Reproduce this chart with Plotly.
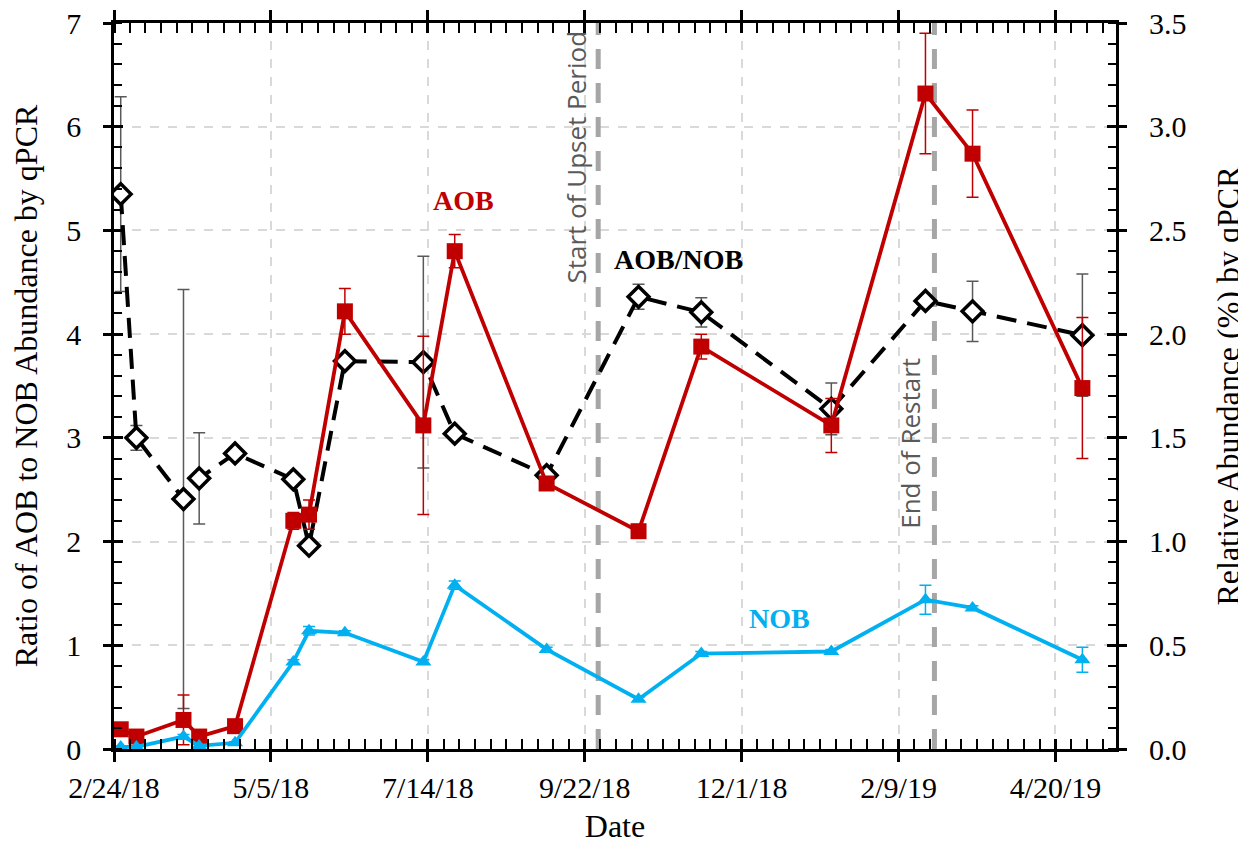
import plotly.graph_objects as go

# sampling dates
dates = ['2018-02-27', '2018-03-06', '2018-03-27', '2018-04-03', '2018-04-19',
         '2018-05-15', '2018-05-22', '2018-06-07', '2018-07-12', '2018-07-26',
         '2018-09-05', '2018-10-16', '2018-11-13', '2019-01-10', '2019-02-21',
         '2019-03-14', '2019-05-02']

# relative abundance (%) by qPCR - right axis
aob = [0.095, 0.06, 0.14, 0.06, 0.11, 1.10, 1.13, 2.11, 1.56, 2.40,
       1.28, 1.05, 1.94, 1.56, 3.16, 2.87, 1.74]
aob_err = [0.01, 0.005, 0.12, 0.01, 0.01, 0.04, 0.07, 0.11, 0.43, 0.08,
           0.01, 0.01, 0.06, 0.13, 0.29, 0.21, 0.34]
nob = [0.01, 0.01, 0.06, 0.015, 0.03, 0.42, 0.57, 0.56, 0.42, 0.79,
       0.48, 0.24, 0.46, 0.47, 0.72, 0.68, 0.43]
nob_err = [0.005, 0.005, 0.01, 0.005, 0.005, 0.01, 0.02, 0.01, 0.01, 0.02,
           0.01, 0.01, 0.01, 0.01, 0.07, 0.01, 0.06]

# AOB/NOB ratio - left axis
ratio = [5.35, 3.00, 2.41, 2.61, 2.85, 2.60, 1.96, 3.74, 3.73, 3.04,
         2.64, 4.36, 4.21, 3.28, 4.32, 4.22, 3.99]
ratio_err = [0.94, 0.12, 2.02, 0.44, 0.02, 0.02, 0.05, 0.02, 1.02, 0.02,
             0.05, 0.12, 0.14, 0.25, 0.03, 0.29, 0.59]

# process events
event_dates = ['2018-09-28', '2019-02-25']
event_labels = ['Start of Upset Period', 'End of Restart']

RED = '#C00000'
BLUE = '#00B0F0'
SERIF = 'Liberation Serif'
DAY = 86400000
CLEAR = 'rgba(0,0,0,0)'
TICKFONT = dict(family=SERIF, size=30, color='black')

fig = go.Figure()

fig.add_trace(go.Scatter(
    x=dates, y=ratio, name='AOB/NOB', mode='lines+markers',
    line=dict(color='black', width=4, dash='20px,11px'),
    marker=dict(symbol='diamond', size=16, color='white', line=dict(width=3.5, color='black')),
    error_y=dict(type='data', array=ratio_err, color='#595959', thickness=1.5, width=6),
))
fig.add_trace(go.Scatter(
    x=dates, y=aob, name='AOB', mode='lines+markers', yaxis='y2',
    line=dict(color=RED, width=3.8),
    marker=dict(symbol='square', size=16, color=RED),
    error_y=dict(type='data', array=aob_err, color=RED, thickness=1.5, width=6),
))
fig.add_trace(go.Scatter(
    x=dates, y=nob, name='NOB', mode='lines+markers', yaxis='y2',
    line=dict(color=BLUE, width=3.8),
    marker=dict(symbol='triangle-up', size=14, color=BLUE),
    error_y=dict(type='data', array=nob_err, color=BLUE, thickness=1.5, width=6),
))
# invisible traces carrying the extra tick-only axes (crossing major ticks)
fig.add_trace(go.Scatter(x=dates, y=ratio, xaxis='x3', yaxis='y3', mode='lines',
                         opacity=0, hoverinfo='skip', showlegend=False))
fig.add_trace(go.Scatter(x=dates, y=ratio, xaxis='x', yaxis='y4', mode='lines',
                         opacity=0, hoverinfo='skip', showlegend=False))

for d in event_dates:
    fig.add_shape(type='line', x0=d, x1=d, y0=0, y1=7, xref='x', yref='y',
                  line=dict(color='#A6A6A6', width=5, dash='20px,14px'), layer='between')

# label positions for the event text
fig.add_annotation(x='2018-09-18', y=5.71, text=event_labels[0], textangle=-90,
                   showarrow=False, font=dict(family='Open Sans', size=26, color='#595959'))
fig.add_annotation(x='2019-02-14', y=2.95, text=event_labels[1], textangle=-90,
                   showarrow=False, font=dict(family='Open Sans', size=26, color='#595959'))

fig.add_annotation(x='2018-07-30', y=5.29, text='<b>AOB</b>', showarrow=False,
                   font=dict(family=SERIF, size=28, color=RED))
fig.add_annotation(x='2018-11-03', y=4.72, text='<b>AOB/NOB</b>', showarrow=False,
                   font=dict(family=SERIF, size=28, color='black'))
fig.add_annotation(x='2018-12-18', y=1.26, text='<b>NOB</b>', showarrow=False,
                   font=dict(family=SERIF, size=28, color=BLUE))

xrange = ['2018-02-24', '2019-05-17']

fig.update_layout(
    width=1238, height=836,
    margin=dict(l=106, r=130, t=15, b=95),
    plot_bgcolor='white', paper_bgcolor='white',
    showlegend=False,
    font=dict(family=SERIF, size=27, color='black'),
    xaxis=dict(
        type='date', range=xrange, tick0='2018-02-24', dtick=70 * DAY,
        tickformat='%-m/%-d/%y', tickfont=TICKFONT, ticklabeloverflow='allow',
        ticks='outside', ticklen=10, tickwidth=2.5,
        tickcolor='black', showline=True, linewidth=2.5, linecolor='black',
        mirror='allticks', showgrid=True, gridcolor='#D9D9D9', griddash='dash',
        gridwidth=1.5, zeroline=False, automargin=False,
        minor=dict(ticks='inside', ticklen=8, tickwidth=2, tickcolor='black',
                   tick0='2018-02-24', dtick=7 * DAY, showgrid=False),
        title=dict(text='Date', standoff=21),
    ),
    # label-carrying left axis: long invisible ticks set the label gap
    yaxis=dict(
        range=[0, 7], dtick=1, tickfont=TICKFONT, ticklabeloverflow='allow',
        ticks='outside', ticklen=24, tickwidth=1,
        tickcolor=CLEAR, showline=True, linewidth=2.5, linecolor='black',
        mirror=True, showgrid=True, gridcolor='#D9D9D9', griddash='dash',
        gridwidth=1.5, zeroline=False, automargin=False,
        minor=dict(ticks='inside', ticklen=8, tickwidth=2, tickcolor='black',
                   dtick=0.2, showgrid=False),
        title=dict(text='Ratio of AOB to NOB Abundance by qPCR', standoff=22),
    ),
    yaxis2=dict(
        range=[0, 3.5], dtick=0.5, tickformat='.1f', overlaying='y', side='right',
        tickfont=TICKFONT, ticklabeloverflow='allow',
        ticks='outside', ticklen=26, tickwidth=1, tickcolor=CLEAR,
        showline=False, showgrid=False, zeroline=False, automargin=False,
        minor=dict(ticks='inside', ticklen=8, tickwidth=2, tickcolor='black',
                   dtick=0.1, showgrid=False),
        title=dict(text='Relative Abundance (%) by qPCR', standoff=34),
    ),
    xaxis3=dict(
        matches='x', overlaying='x', anchor='y', type='date',
        tick0='2018-02-24', dtick=70 * DAY, ticks='inside', ticklen=9,
        tickwidth=2.5, tickcolor='black', mirror='allticks', automargin=False,
        showticklabels=False, showgrid=False, showline=False, zeroline=False,
    ),
    yaxis3=dict(
        matches='y', overlaying='y', anchor='x', dtick=1, ticks='inside',
        ticklen=9, tickwidth=2.5, tickcolor='black', mirror='allticks',
        automargin=False,
        showticklabels=False, showgrid=False, showline=False, zeroline=False,
    ),
    yaxis4=dict(
        matches='y', overlaying='y', anchor='x', dtick=1, ticks='outside',
        ticklen=10, tickwidth=2.5, tickcolor='black', mirror='allticks',
        automargin=False,
        showticklabels=False, showgrid=False, showline=False, zeroline=False,
    ),
)

fig.write_html("out.html")
